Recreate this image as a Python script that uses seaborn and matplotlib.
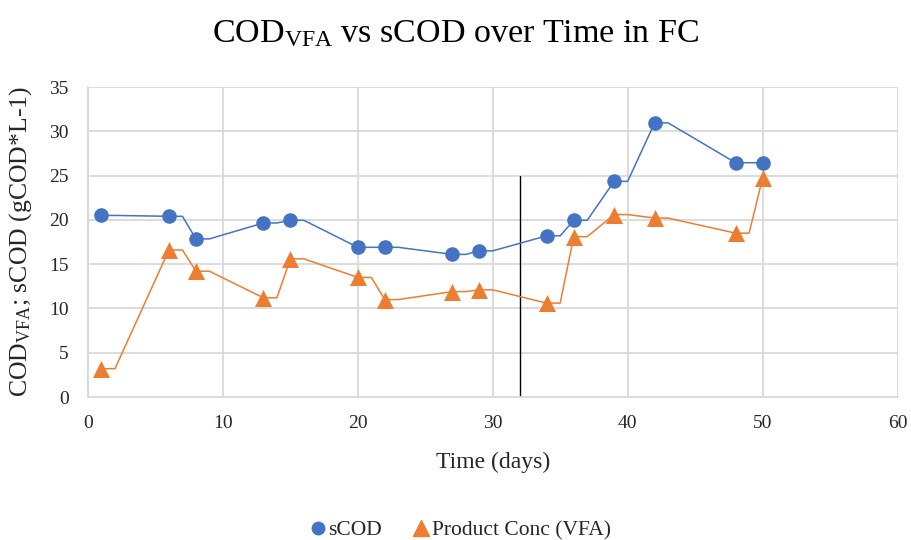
import matplotlib
matplotlib.use("Agg")
import matplotlib.pyplot as plt
from matplotlib.lines import Line2D
import seaborn as sns
import pandas as pd

# Sampling days and measured concentrations (gCOD/L)
days = [1, 6, 8, 13, 15, 20, 22, 27, 29, 34, 36, 39, 42, 48, 50]
scod = [20.5, 20.4, 17.85, 19.65, 19.95, 16.9, 16.9, 16.1, 16.5, 18.2, 19.95, 24.35, 30.95, 26.45, 26.45]
vfa = [3.2, 16.6, 14.2, 11.2, 15.6, 13.5, 11.0, 11.9, 12.1, 10.6, 18.1, 20.6, 20.2, 18.5, 24.7]

marker_line_day = 32
marker_line_top = 25

x_ticks = [0, 10, 20, 30, 40, 50, 60]
y_ticks = [0, 5, 10, 15, 20, 25, 30, 35]

BLUE = "#4472C4"
ORANGE = "#ED7D31"
GRID = "#D9D9D9"
TEXT = "#262626"


def held_path(x, y):
    """Each value is held for one day before moving on to the next sample."""
    px, py = [], []
    for i, (xi, yi) in enumerate(zip(x, y)):
        px.append(xi)
        py.append(yi)
        if i < len(x) - 1:
            px.append(xi + 1)
            py.append(yi)
    return pd.DataFrame({"day": px, "value": py})


sns.set_theme(style="white")
plt.rcParams["font.family"] = ["Liberation Serif", "DejaVu Serif"]
plt.rcParams["mathtext.fontset"] = "custom"
plt.rcParams["mathtext.rm"] = "Liberation Serif"
plt.rcParams["mathtext.it"] = "Liberation Serif"

fig = plt.figure(figsize=(9.11, 5.40), dpi=100)
ax = fig.add_axes([88 / 911, 1 - 397 / 540, (897.5 - 88) / 911, (397 - 87) / 540])

df_s = pd.DataFrame({"day": days, "value": scod})
df_v = pd.DataFrame({"day": days, "value": vfa})

sns.lineplot(data=held_path(days, scod), x="day", y="value", ax=ax, color=BLUE,
             linewidth=1.1, sort=False, estimator=None, zorder=3)
sns.lineplot(data=held_path(days, vfa), x="day", y="value", ax=ax, color=ORANGE,
             linewidth=1.1, sort=False, estimator=None, zorder=3)
sns.scatterplot(data=df_s, x="day", y="value", ax=ax, color=BLUE, marker="o",
                s=110, linewidth=0, zorder=4)
sns.scatterplot(data=df_v, x="day", y="value", ax=ax, color=ORANGE, marker="^",
                s=150, linewidth=0, zorder=4)

ax.plot([marker_line_day, marker_line_day], [0, marker_line_top], color="black",
        linewidth=1.0, zorder=2)

ax.set_xlim(0, 60)
ax.set_ylim(0, 35)
ax.set_xticks(x_ticks)
ax.set_yticks(y_ticks)
ax.tick_params(axis="x", labelsize=14, length=0, pad=13)
ax.tick_params(axis="y", labelsize=14, length=0, pad=14)
for lab in ax.get_xticklabels() + ax.get_yticklabels():
    lab.set_color(TEXT)
ax.grid(True, color=GRID, linewidth=1.3)
ax.set_axisbelow(True)
for side in ["top", "right"]:
    ax.spines[side].set_visible(False)
for side in ["left", "bottom"]:
    ax.spines[side].set_color(GRID)
    ax.spines[side].set_linewidth(1.3)

ax.set_xlabel("Time (days)", fontsize=17, color=TEXT, va="center")
ax.xaxis.set_label_coords(0.5, (397 - 462) / 310)
ax.set_ylabel(r"COD$_{\mathrm{VFA}}$; sCOD (gCOD*L-1)", fontsize=18.5, color=TEXT,
              va="center")
ax.yaxis.set_label_coords((21 - 88) / 809.5, 0.5)
fig.text(0.5, 1 - 34 / 540, r"COD$_{\mathrm{VFA}}$ vs sCOD over Time in FC",
         fontsize=24.5, color="#000000", ha="center", va="center")

handles = [
    Line2D([], [], linestyle="none", marker="o", markersize=9, color=BLUE, label="sCOD"),
    Line2D([], [], linestyle="none", marker="^", markersize=11, color=ORANGE,
           label="Product Conc (VFA)"),
]
fig.legend(handles=handles, loc="center", bbox_to_anchor=(0.5, 1 - 530 / 540), ncol=2,
           frameon=False, fontsize=15.5, handletextpad=-0.3, columnspacing=1.0,
           handlelength=1.6, labelcolor=TEXT, borderaxespad=0, borderpad=0)

fig.savefig("out.png", dpi=100)
